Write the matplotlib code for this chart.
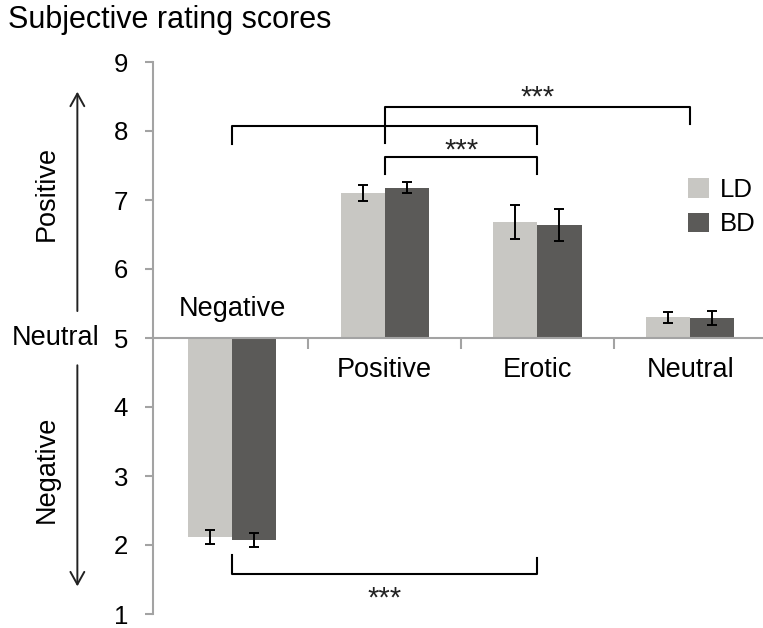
import numpy as np
import matplotlib
matplotlib.use('Agg')
import matplotlib.pyplot as plt

plt.rcParams['font.family'] = ['Liberation Sans', 'DejaVu Sans']

categories = ['Negative', 'Positive', 'Erotic', 'Neutral']
groups = ['LD', 'BD']
ld_mean = [2.12, 7.10, 6.68, 5.30]
ld_err = [0.10, 0.12, 0.25, 0.08]
bd_mean = [2.07, 7.18, 6.64, 5.285]
bd_err = [0.10, 0.085, 0.235, 0.10]
yticks = [1, 2, 3, 4, 5, 6, 7, 8, 9]
baseline = 5

# significance brackets: (x_left, x_right, y_bar, y_left_end, y_right_end)
brackets = [(0, 2, 8.07, 7.81, 7.81),
            (1, 3, 8.35, 7.83, 8.10),
            (1, 2, 7.63, 7.37, 7.37),
            (0, 2, 1.58, 1.86, 1.81)]
stars = [(2.0, 8.49), (1.5, 7.72), (1.0, 1.22)]

ld_col = '#c8c7c3'
bd_col = '#5b5a58'
axis_col = '#a3a3a3'

W, H = 763, 628
fig = plt.figure(figsize=(W/100, H/100), dpi=100)
ax = fig.add_axes([153/W, 1-614/H, 610/W, 552/H])

x = np.arange(len(categories))
bw = 0.289
off = 0.1445
ax.bar(x-off, np.array(ld_mean)-baseline, bw, bottom=baseline, color=ld_col, lw=0, label='LD')
ax.bar(x+off, np.array(bd_mean)-baseline, bw, bottom=baseline, color=bd_col, lw=0, label='BD')
ax.errorbar(x-off, ld_mean, yerr=ld_err, fmt='none', ecolor='black', elinewidth=1.4, capsize=3.6, capthick=1.4)
ax.errorbar(x+off, bd_mean, yerr=bd_err, fmt='none', ecolor='black', elinewidth=1.4, capsize=3.6, capthick=1.4)

ax.set_xlim(-0.517, 3.477)
ax.set_ylim(1, 9)
ax.set_yticks(yticks)
ax.set_yticklabels([str(t) for t in yticks], fontsize=18.5)
ax.set_xticks([0.5, 1.5, 2.5])
ax.set_xticklabels([])
ax.tick_params(axis='y', direction='out', length=6, width=1.5, color=axis_col, pad=12)
ax.tick_params(axis='x', direction='out', length=8, width=1.5, color=axis_col)
for s in ['top', 'right']:
    ax.spines[s].set_visible(False)
ax.spines['bottom'].set_position(('data', baseline))
ax.spines['bottom'].set_color(axis_col)
ax.spines['bottom'].set_linewidth(1.5)
ax.spines['left'].set_color(axis_col)
ax.spines['left'].set_linewidth(1.5)

# category names, the negative one sits above the baseline
for i, c in enumerate(categories):
    if ld_mean[i] < baseline:
        ax.text(i, 5.32, c, ha='center', va='baseline', fontsize=19.5)
    else:
        ax.text(i, 4.44, c, ha='center', va='baseline', fontsize=19.5)

for xl, xr, yb, yl, yr in brackets:
    ax.plot([xl, xl, xr, xr], [yl, yb, yb, yr], color='black', lw=1.5, clip_on=False)
for sx, sy in stars:
    ax.text(sx, sy, '***', ha='center', va='center', fontsize=21, color='#222222')

# valence arrows left of the axis
yt = ax.get_yaxis_transform()
ax.annotate('', xy=(-0.124, 8.61), xytext=(-0.124, 5.35), xycoords=yt, textcoords=yt,
            arrowprops=dict(arrowstyle='->,head_length=0.9,head_width=0.5', color='#222222', lw=1.4))
ax.annotate('', xy=(-0.124, 1.36), xytext=(-0.124, 4.645), xycoords=yt, textcoords=yt,
            arrowprops=dict(arrowstyle='->,head_length=0.9,head_width=0.5', color='#222222', lw=1.4))
ax.text(-0.175, 7.1, 'Positive', transform=yt, rotation=90, ha='center', va='center', fontsize=19.5)
ax.text(-0.175, 3.1, 'Negative', transform=yt, rotation=90, ha='center', va='center', fontsize=19.5)
ax.text(-0.087, 5, 'Neutral', transform=yt, ha='right', va='center', fontsize=19.5)

ax.legend(loc='upper left', bbox_to_anchor=(688/W, 1-178/H), bbox_transform=fig.transFigure,
          frameon=False, fontsize=18.5, handlelength=0.8, handleheight=0.8, handletextpad=0.44,
          labelspacing=0.4, borderpad=0, borderaxespad=0)

fig.text(8/W, 1-28/H, 'Subjective rating scores', ha='left', va='baseline', fontsize=22)

fig.savefig('out.png', dpi=100)
